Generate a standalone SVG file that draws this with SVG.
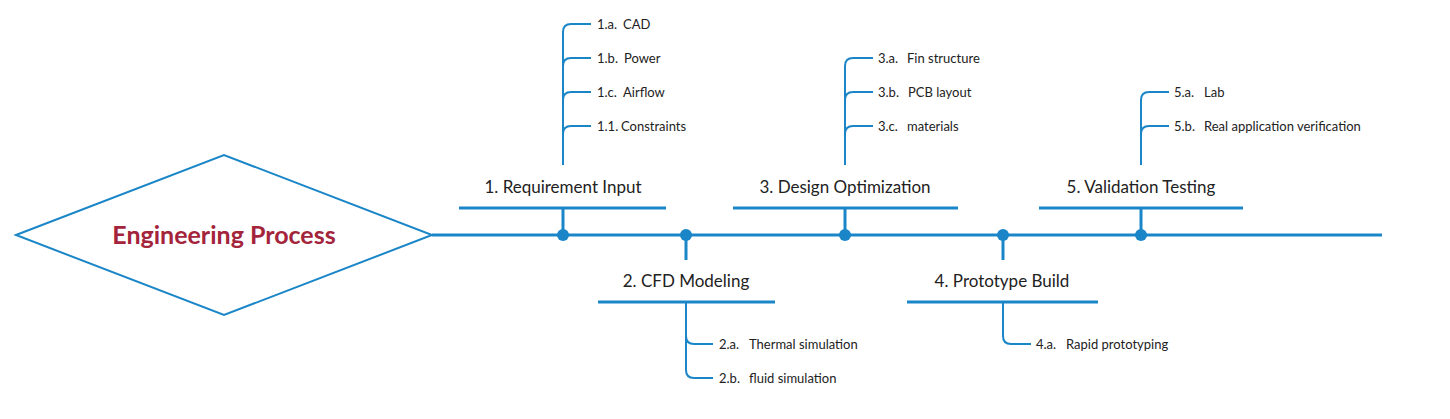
<svg xmlns="http://www.w3.org/2000/svg" width="1450" height="419" viewBox="0 0 1450 419">
<style>
.l{stroke:#1a86c8;stroke-width:3;fill:none}
.s{stroke:#1a86c8;stroke-width:2;fill:none}
.d{fill:#1a86c8}
.t{font-family:Lato,"Liberation Sans",sans-serif;font-size:17px;fill:#222}
.st{font-family:Lato,"Liberation Sans",sans-serif;font-size:13px;fill:#222}
</style>
<rect width="1450" height="419" fill="#fff"/>
<g id="title"><polygon points="16,235 224,155 432,235 224,315" fill="#fff" stroke="#1a86c8" stroke-width="2"/>
<text x="224" y="244" text-anchor="middle" font-family="Lato,'Liberation Sans',sans-serif" font-size="25" font-weight="bold" fill="#a3243b">Engineering Process</text></g>
<g id="connectors">
<line class="l" x1="432" y1="235" x2="1382" y2="235"/>
<path class="l" d="M563 235V208M686 235V260M845 235V208M1003 235V260M1141 235V208"/>
<path class="s" d="M563 165V32Q563 24 571 24H591M563 66Q563 58 571 58H591M563 100Q563 92 571 92H591M563 134Q563 126 571 126H591"/>
<path class="s" d="M686 302V370Q686 378 694 378H713M686 336Q686 344 694 344H713"/>
<path class="s" d="M845 165V66Q845 58 853 58H873M845 100Q845 92 853 92H873M845 134Q845 126 853 126H873"/>
<path class="s" d="M1003 302V336Q1003 344 1011 344H1031"/>
<path class="s" d="M1141 165V100Q1141 92 1149 92H1169M1141 134Q1141 126 1149 126H1169"/>
<circle class="d" cx="563" cy="235" r="6"/><circle class="d" cx="686" cy="235" r="6"/><circle class="d" cx="845" cy="235" r="6"/><circle class="d" cx="1003" cy="235" r="6"/><circle class="d" cx="1141" cy="235" r="6"/>
</g>
<g id="n1"><line class="l" x1="459" y1="208" x2="666" y2="208"/><text class="t" x="563" y="193" text-anchor="middle">1.  Requirement Input</text>
<text class="st" x="597" y="29">1.a.</text><text class="st" x="623" y="29">CAD</text>
<text class="st" x="597" y="63">1.b.</text><text class="st" x="624" y="63">Power</text>
<text class="st" x="597" y="97">1.c.</text><text class="st" x="623" y="97">Airflow</text>
<text class="st" x="597" y="131">1.1.</text><text class="st" x="621" y="131">Constraints</text></g>
<g id="n2"><line class="l" x1="598" y1="302" x2="775" y2="302"/><text class="t" x="686" y="287" text-anchor="middle">2.  CFD Modeling</text>
<text class="st" x="719" y="349">2.a.</text><text class="st" x="749" y="349">Thermal simulation</text>
<text class="st" x="719" y="383">2.b.</text><text class="st" x="749" y="383">fluid simulation</text></g>
<g id="n3"><line class="l" x1="733" y1="208" x2="958" y2="208"/><text class="t" x="845" y="193" text-anchor="middle">3.  Design Optimization</text>
<text class="st" x="878" y="63">3.a.</text><text class="st" x="907" y="63">Fin structure</text>
<text class="st" x="878" y="97">3.b.</text><text class="st" x="908" y="97">PCB layout</text>
<text class="st" x="878" y="131">3.c.</text><text class="st" x="907" y="131">materials</text></g>
<g id="n4"><line class="l" x1="907" y1="302" x2="1098" y2="302"/><text class="t" x="1002" y="287" text-anchor="middle">4.  Prototype Build</text>
<text class="st" x="1036" y="349">4.a.</text><text class="st" x="1066" y="349">Rapid prototyping</text></g>
<g id="n5"><line class="l" x1="1039" y1="208" x2="1243" y2="208"/><text class="t" x="1141" y="193" text-anchor="middle">5.  Validation Testing</text>
<text class="st" x="1174" y="97">5.a.</text><text class="st" x="1204" y="97">Lab</text>
<text class="st" x="1174" y="131">5.b.</text><text class="st" x="1204" y="131">Real application verification</text></g>
</svg>
